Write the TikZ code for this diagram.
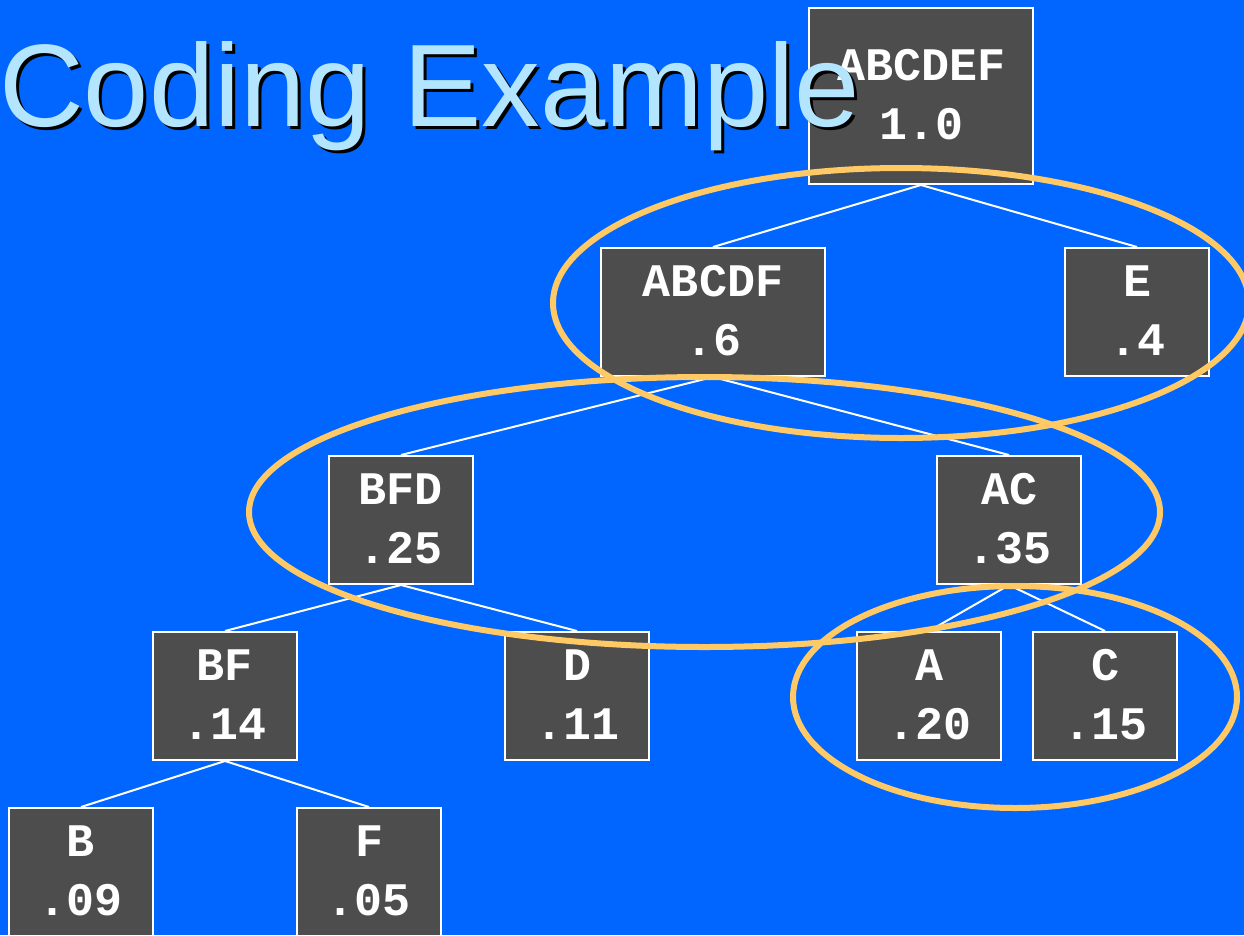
\documentclass[tikz,border=0pt]{standalone}
\usepackage{fontspec}
\setmainfont{Liberation Sans}
\newfontfamily\boxfont{Liberation Mono}
\usetikzlibrary{calc}
\definecolor{bg}{HTML}{0066FF}
\definecolor{boxgray}{HTML}{4D4D4D}
\definecolor{ringcol}{HTML}{FFC966}
\definecolor{titleblue}{HTML}{B3E5FF}
\newcommand\treebox[6]{%
  \node[tree,#4] (#1) at (#2,#3) {};
  \node[lbl] (#1-l) at ($(#1.center)+(0,-16)$) {#5};
  \node[lbl] (#1-v) at ($(#1.center)+(0,43)$) {#6};}
\begin{document}
\begin{tikzpicture}[x=0.75pt,y=-0.75pt,
  tree/.style={draw=white, line width=1.5pt, fill=boxgray, minimum height=96pt, inner sep=0pt},
  wide/.style={minimum width=168pt},
  narrow/.style={minimum width=108pt},
  root/.style={minimum width=168pt, minimum height=132pt},
  lbl/.style={text=white, font=\boxfont\bfseries\fontsize{35}{35}\selectfont, anchor=base, inner sep=0pt},
  link/.style={draw=white, line width=1.5pt},
  ring/.style={draw=ringcol, line width=4.5pt},
  titlefont/.style={font=\fontsize{88}{88}\selectfont, anchor=base west, inner sep=0pt}]
\fill[bg] (0,0) rectangle (1244,935);
\useasboundingbox (0,0) rectangle (1244,935);
% boxes
\treebox{abcdef}{921}{96}{root}{ABCDEF}{1.0}
\treebox{abcdf}{713}{312}{wide}{ABCDF}{.6}
\treebox{e}{1137}{312}{narrow}{E}{.4}
\treebox{bfd}{401}{520}{narrow}{BFD}{.25}
\treebox{ac}{1009}{520}{narrow}{AC}{.35}
\treebox{bf}{225}{696}{narrow}{BF}{.14}
\treebox{d}{577}{696}{narrow}{D}{.11}
\treebox{a}{929}{696}{narrow}{A}{.20}
\treebox{c}{1105}{696}{narrow}{C}{.15}
\treebox{b}{81}{872}{narrow}{B}{.09}
\treebox{f}{369}{872}{narrow}{F}{.05}
% connectors
\path[link] (abcdef.south) -- (abcdf.north);
\path[link] (abcdef.south) -- (e.north);
\path[link] (abcdf.south) -- (bfd.north);
\path[link] (abcdf.south) -- (ac.north);
\path[link] (bfd.south) -- (bf.north);
\path[link] (bfd.south) -- (d.north);
\path[link] (ac.south) -- (a.north);
\path[link] (ac.south) -- (c.north);
\path[link] (bf.south) -- (b.north);
\path[link] (bf.south) -- (f.north);
% title
\node[titlefont, text=black] (tshadow) at (2,129) {Coding Example};
\node[titlefont, text=titleblue] (title) at (-1,126) {Coding Example};
% rings
\draw[ring] (901,303) ellipse [x radius=348, y radius=135];
\draw[ring] (704.5,512) ellipse [x radius=455.5, y radius=135];
\draw[ring] (1015,697) ellipse [x radius=222, y radius=111];
\end{tikzpicture}
\end{document}
